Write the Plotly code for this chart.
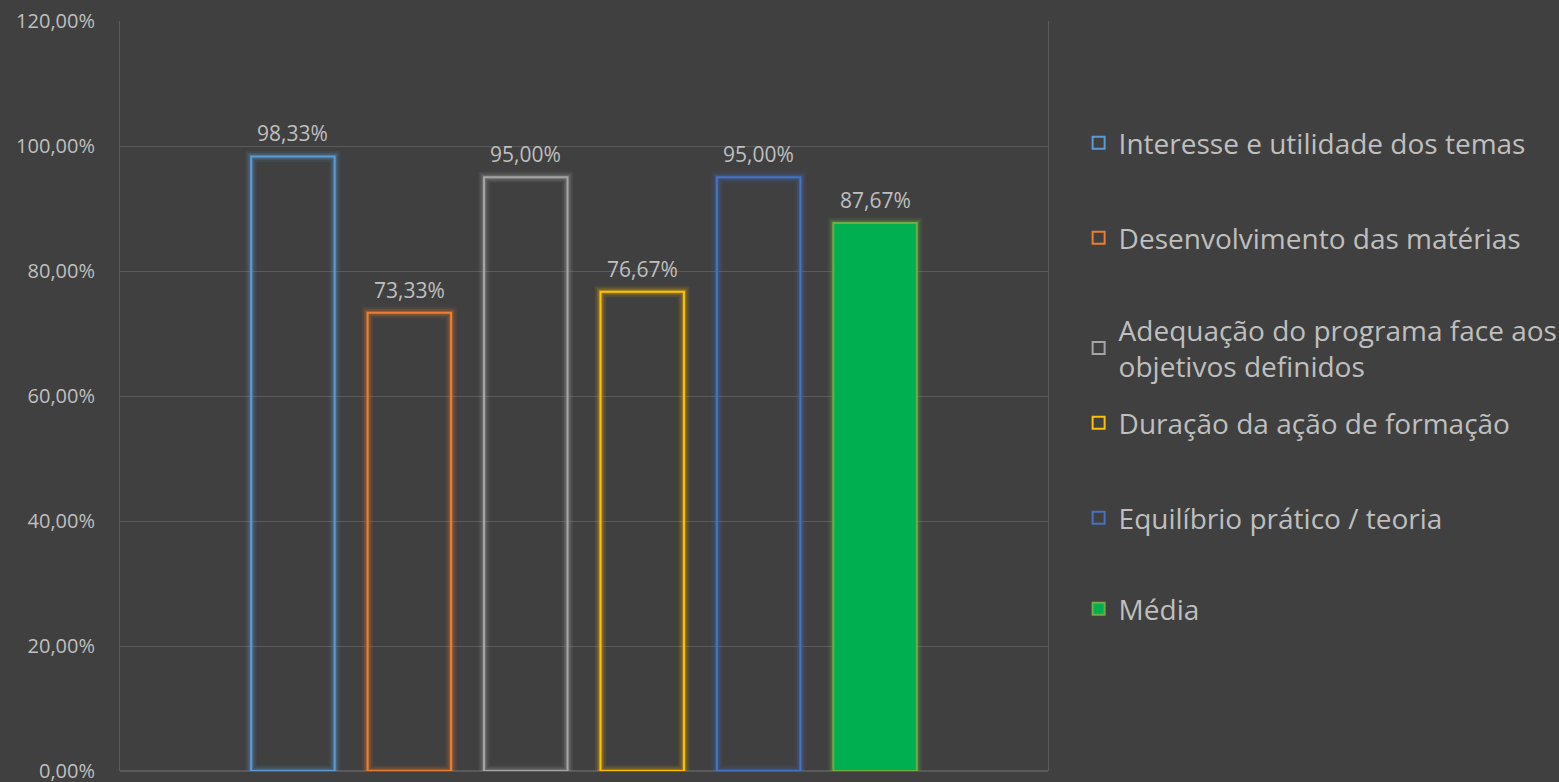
import plotly.graph_objects as go

series_names = [
    "Interesse e utilidade dos temas",
    "Desenvolvimento das matérias",
    "Adequação do programa face aos<br>objetivos definidos",
    "Duração da ação de formação",
    "Equilíbrio prático / teoria",
    "Média",
]
categories = ["c1", "c2", "c3", "c4", "c5", "c6"]
series_values = [0.9833, 0.7333, 0.95, 0.7667, 0.95, 0.8767]
line_colors = ["#5B9BD5", "#ED7D31", "#A5A5A5", "#FFC000", "#4472C4", "#70AD47"]
fill_colors = ["rgba(0,0,0,0)"] * 5 + ["#00B050"]
y_ticks = [0, 0.2, 0.4, 0.6, 0.8, 1.0, 1.2]
# vertical centre (px from top) of each legend entry's first line
legend_rows = [143, 238, 330, 423, 518, 609]

BG = "#404040"
TXT = "#BFBFBF"
GRID = "#5A5A5A"
FONT = "Open Sans"
BAR_W = 0.717
H = 782
MT, MB = 21, 11
PLOT_H = H - MT - MB
LEG_OFF = 25

def rgba(hex_color, a):
    h = hex_color.lstrip("#")
    r, g, b = int(h[0:2], 16), int(h[2:4], 16), int(h[4:6], 16)
    return f"rgba({r},{g},{b},{a})"

fig = go.Figure()

# soft glow layers
for cat, val, lc in zip(categories, series_values, line_colors):
    for w, a in [(11, 0.10), (7, 0.16), (4, 0.22)]:
        fig.add_trace(go.Bar(
            x=[cat], y=[val], width=BAR_W, showlegend=False, hoverinfo="skip",
            marker=dict(color="rgba(0,0,0,0)", line=dict(color=rgba(lc, a), width=w)),
        ))

legend_layout = {}
for i, (cat, name, val, lc, fc, row) in enumerate(
        zip(categories, series_names, series_values, line_colors, fill_colors, legend_rows)):
    key = "legend" if i == 0 else f"legend{i+1}"
    fig.add_trace(go.Bar(
        x=[cat], y=[val], name=name, legend=key, width=BAR_W,
        marker=dict(color=fc, line=dict(color=lc, width=2)),
    ))
    legend_layout[key] = dict(
        x=1.033, xanchor="left", y=1 - (row - LEG_OFF - MT) / PLOT_H, yanchor="top",
        font=dict(size=28, color=TXT, family=FONT), bgcolor="rgba(0,0,0,0)",
        itemclick=False, itemdoubleclick=False,
    )
    fig.add_annotation(
        x=cat, y=val, xref="x", yref="y", text=f"{val*100:.2f}%".replace(".", ","),
        showarrow=False, yanchor="bottom", yshift=7,
        font=dict(size=21, color=TXT, family=FONT),
    )

fig.update_layout(
    width=1559, height=H,
    paper_bgcolor=BG, plot_bgcolor=BG,
    separators=",.",
    font=dict(family=FONT, color=TXT, size=20),
    margin=dict(l=120, r=511, t=MT, b=MB, autoexpand=False),
    barmode="overlay",
    xaxis=dict(type="category", categoryorder="array", categoryarray=categories,
               range=[-1.485, 6.485], showticklabels=False, showgrid=False,
               zeroline=False, showline=False, ticks=""),
    yaxis=dict(range=[0, 1.2], tickvals=y_ticks, tickformat=".2%",
               showgrid=True, gridcolor=GRID, gridwidth=1,
               zeroline=True, zerolinecolor=GRID,
               showline=True, linecolor=GRID, mirror=True, linewidth=1,
               ticks="", ticklabelstandoff=20, ticklabeloverflow="allow",
               tickfont=dict(size=20, color=TXT, family=FONT)),
    showlegend=True,
    **legend_layout,
)

fig.write_html(
    "out.html",
    config={"displayModeBar": False},
    post_script="document.body.style.margin='0';document.body.style.background='#404040';document.body.style.overflow='hidden';",
)
